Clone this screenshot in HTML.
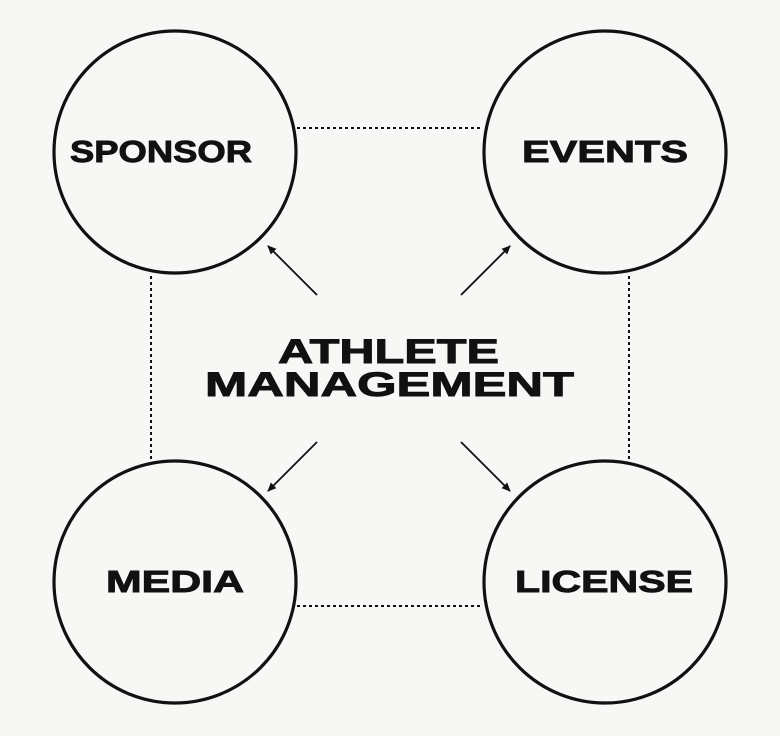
<!DOCTYPE html>
<html><head><meta charset="utf-8"><style>
html,body{margin:0;padding:0;background:#f7f7f5;}
svg{display:block;}
text{font-family:"Liberation Sans",Arial,sans-serif;font-weight:bold;fill:#111;stroke:#111;stroke-width:0.9;}
</style></head><body>
<svg width="780" height="736" viewBox="0 0 780 736" xmlns="http://www.w3.org/2000/svg">
<defs><marker id="a" markerWidth="10" markerHeight="10" refX="8" refY="5" orient="auto" markerUnits="userSpaceOnUse"><path d="M0,1 L9,5 L0,9 z" fill="#111"/></marker></defs>
<g stroke="#111" stroke-width="2" stroke-dasharray="3,3" fill="none">
<line x1="297" y1="128" x2="481" y2="128"/>
<line x1="297" y1="606" x2="481" y2="606"/>
<line x1="151" y1="276" x2="151" y2="460"/>
<line x1="629" y1="276" x2="629" y2="460"/>
</g>
<g stroke="#111" stroke-width="3.2" fill="none">
<circle cx="175" cy="152" r="121"/>
<circle cx="605" cy="152" r="121"/>
<circle cx="175" cy="582" r="121"/>
<circle cx="605" cy="582" r="121"/>
</g>
<g stroke="#111" stroke-width="1.8" marker-end="url(#a)">
<line x1="317" y1="295" x2="268" y2="246"/>
<line x1="461" y1="295" x2="510" y2="246"/>
<line x1="317" y1="442" x2="268" y2="491"/>
<line x1="461" y1="442" x2="510" y2="491"/>
</g>
<text x="70" y="162" font-size="31" textLength="182" lengthAdjust="spacingAndGlyphs">SPONSOR</text>
<text x="522" y="162" font-size="31" textLength="166" lengthAdjust="spacingAndGlyphs">EVENTS</text>
<text x="106" y="592" font-size="31" textLength="138" lengthAdjust="spacingAndGlyphs">MEDIA</text>
<text x="515" y="592" font-size="31" textLength="178" lengthAdjust="spacingAndGlyphs">LICENSE</text>
<text x="278" y="363" font-size="34" textLength="221" lengthAdjust="spacingAndGlyphs">ATHLETE</text>
<text x="205" y="396" font-size="34" textLength="369" lengthAdjust="spacingAndGlyphs">MANAGEMENT</text>
</svg>
</body></html>
